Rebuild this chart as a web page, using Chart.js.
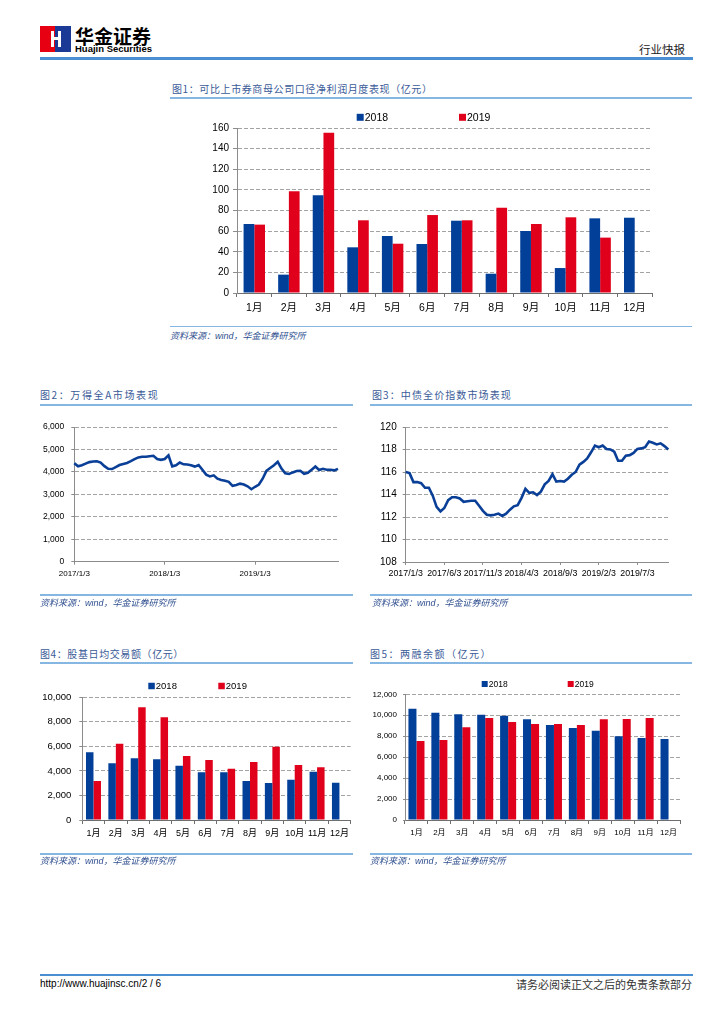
<!DOCTYPE html>
<html>
<head>
<meta charset="utf-8">
<script src="https://cdn.jsdelivr.net/npm/chart.js@4.4.0/dist/chart.umd.min.js"></script>
<style>
  body { margin: 0; width: 724px; height: 1024px; background: #fff; position: relative; overflow: hidden;
         font-family: "Liberation Sans", "Noto Sans CJK SC", sans-serif; }
  .abs { position: absolute; white-space: nowrap; line-height: 1; }
  .title { position: absolute; white-space: nowrap; line-height: 1; font-family: "Noto Sans CJK SC"; font-size: 10px; color: #3a5b98; }
  .rule { position: absolute; height: 1.5px; background: #86b7e3; }
  .src { position: absolute; white-space: nowrap; line-height: 1; font-family: "Liberation Sans", "Noto Sans CJK SC"; font-size: 9px; font-style: italic; color: #2f4f8f; }
  .box { position: absolute; }
</style>
</head>
<body>

<!-- header -->
<div class="abs" style="left:40px;top:26px;width:15px;height:26px;background:#e60012;"></div>
<div class="abs" style="left:55px;top:26px;width:16px;height:26px;background:#1b3a96;"></div>
<div class="abs" style="left:51px;top:31px;width:3px;height:16px;background:#fff;"></div>
<div class="abs" style="left:58px;top:31px;width:3px;height:16px;background:#fff;"></div>
<div class="abs" style="left:54px;top:37px;width:4px;height:3px;background:#fff;"></div>
<div class="abs" style="left:75px;top:26px;font-family:'Noto Sans CJK SC';font-weight:700;font-size:19px;color:#000;">华金证券</div>
<div class="abs" style="left:75px;top:44px;font-weight:700;font-size:9.5px;color:#000;">Huajin Securities</div>
<div class="abs" style="left:639px;top:44px;font-family:'Noto Sans CJK SC';font-size:11.5px;color:#222;">行业快报</div>
<div class="abs" style="left:40px;top:57px;width:653px;height:2.5px;background:#4a8fd1;"></div>

<!-- chart 1 -->
<div class="title" style="left:172px;top:84px;letter-spacing:0.6px;">图1：可比上市券商母公司口径净利润月度表现（亿元）</div>
<div class="rule" style="left:170px;top:97px;width:522px;"></div>
<div class="box" style="left:170px;top:105px;width:522px;height:221px;"><canvas id="c1"></canvas></div>
<div class="rule" style="left:170px;top:325.5px;width:522px;"></div>
<div class="src" style="left:170px;top:332px;">资料来源：wind，华金证券研究所</div>

<!-- chart 2 / 3 -->
<div class="title" style="left:40px;top:390px;letter-spacing:1.6px;">图2：万得全A市场表现</div>
<div class="rule" style="left:40px;top:404px;width:313px;"></div>
<div class="box" style="left:40px;top:415px;width:313px;height:180px;"><canvas id="c2"></canvas></div>
<div class="rule" style="left:40px;top:594px;width:313px;"></div>
<div class="src" style="left:40px;top:598.5px;">资料来源：wind，华金证券研究所</div>

<div class="title" style="left:372px;top:390px;letter-spacing:1.1px;">图3：中债全价指数市场表现</div>
<div class="rule" style="left:370px;top:404px;width:322px;"></div>
<div class="box" style="left:370px;top:415px;width:322px;height:180px;"><canvas id="c3"></canvas></div>
<div class="rule" style="left:370px;top:594px;width:322px;"></div>
<div class="src" style="left:372px;top:598.5px;">资料来源：wind，华金证券研究所</div>

<!-- chart 4 / 5 -->
<div class="title" style="left:40px;top:649px;letter-spacing:0.6px;">图4：股基日均交易额（亿元）</div>
<div class="rule" style="left:40px;top:662px;width:313px;"></div>
<div class="box" style="left:40px;top:670px;width:313px;height:184px;"><canvas id="c4"></canvas></div>
<div class="rule" style="left:40px;top:853px;width:313px;"></div>
<div class="src" style="left:40px;top:857px;">资料来源：wind，华金证券研究所</div>

<div class="title" style="left:370px;top:649px;letter-spacing:1.5px;">图5：两融余额（亿元）</div>
<div class="rule" style="left:370px;top:662px;width:322px;"></div>
<div class="box" style="left:370px;top:670px;width:322px;height:184px;"><canvas id="c5"></canvas></div>
<div class="rule" style="left:370px;top:853px;width:322px;"></div>
<div class="src" style="left:370px;top:857px;">资料来源：wind，华金证券研究所</div>

<!-- footer -->
<div class="abs" style="left:40px;top:974px;width:653px;height:2px;background:#4a8fd1;"></div>
<div class="abs" style="left:40px;top:979px;font-size:10px;color:#000;">http://www.huajinsc.cn/2 / 6</div>
<div class="abs" style="right:32px;top:979px;font-family:'Noto Sans CJK SC';font-size:11px;color:#333;">请务必阅读正文之后的免责条款部分</div>

<script>
// --- data ---
const months = ['1月', '2月', '3月', '4月', '5月', '6月', '7月', '8月', '9月', '10月', '11月', '12月'];
const seriesNames = ['2018', '2019'];

// fig 1: net profit (亿元)
const profit2018 = [66.9, 17.8, 94.7, 44.3, 55.3, 47.5, 70.1, 18.7, 60.1, 24.2, 72.4, 73.0];
const profit2019 = [66.3, 98.6, 155.5, 70.5, 47.8, 75.6, 70.5, 82.7, 66.9, 73.4, 53.7, null];

// fig 2: wind all-A, read every half month from 2017/1/3
const windA = [4390, 4250, 4300, 4370, 4440, 4470, 4480, 4420, 4260, 4140,
               4130, 4220, 4310, 4360, 4400, 4480, 4570, 4650, 4680, 4680,
               4700, 4720, 4580, 4540, 4580, 4740, 4250, 4300, 4420, 4340,
               4330, 4300, 4240, 4310, 4100, 3880, 3800, 3850, 3700, 3640,
               3610, 3560, 3380, 3420, 3480, 3440, 3360, 3230, 3340, 3440,
               3700, 4050, 4180, 4300, 4450, 4150, 3940, 3910, 3980, 4040,
               4050, 3920, 3960, 4100, 4240, 4090, 4140, 4100, 4100, 4070,
               4140];
const windTicks = [0, 24, 48];

// fig 3: chinabond full price index, half-monthly from 2017/1/3
const bondIdx = [116.0, 115.9, 115.1, 115.1, 115.0, 114.6, 114.6, 113.9, 112.9, 112.5,
                 112.8, 113.5, 113.75, 113.75, 113.65, 113.35, 113.4, 113.45, 113.45, 113.0,
                 112.55, 112.2, 112.15, 112.2, 112.3, 112.1, 112.3, 112.65, 112.95, 113.05,
                 113.7, 114.5, 114.15, 114.2, 113.95, 114.25, 114.9, 115.2, 115.8, 115.15,
                 115.2, 115.15, 115.4, 115.75, 116.0, 116.65, 116.9, 117.2, 117.75, 118.35,
                 118.2, 118.35, 118.05, 118.0, 117.8, 117.0, 117.0, 117.45, 117.5, 117.7,
                 118.05, 118.1, 118.2, 118.7, 118.6, 118.45, 118.55, 118.3, 118.0];
const bondTicks = [0, 10, 20, 30, 40, 50, 60];

// fig 4: daily stock+fund turnover (亿元)
const turnover2018 = [5516, 4620, 5027, 4946, 4429, 3886, 3886, 3180, 3016, 3288, 3940, 3043];
const turnover2019 = [3180, 6223, 9185, 8370, 5217, 4891, 4185, 4728, 5978, 4484, 4293, null];

// fig 5: margin balance (亿元)
const margin2018 = [10630, 10248, 10089, 10057, 9962, 9612, 9071, 8784, 8530, 7989, 7830, 7734];
const margin2019 = [7543, 7638, 8848, 9739, 9357, 9166, 9166, 9071, 9612, 9643, 9739, null];

// half-month date labels: 2017/1/3, 2017/1/18, 2017/2/3 ...
function halfMonths(count) {
    const out = [];
    for (let i = 0; i < count; i++) {
        const m = Math.floor(i / 2);
        const y = 2017 + Math.floor(m / 12);
        out.push(y + '/' + (m % 12 + 1) + '/' + (i % 2 ? 18 : 3));
    }
    return out;
}

const BLUE = '#023f99';
const RED = '#e0001b';

Chart.defaults.font.family = '"Liberation Sans", "Noto Sans CJK SC", sans-serif';
Chart.defaults.color = '#000';
Chart.defaults.animation = false;
Chart.defaults.plugins.legend.display = false;
Chart.defaults.plugins.tooltip.enabled = false;

// small box legend placed at fixed spots
const boxLegend = {
    id: 'boxLegend',
    afterDraw(chart, args, opts) {
        if (!opts.xs) return;
        const ctx = chart.ctx;
        ctx.save();
        ctx.font = opts.size + 'px "Liberation Sans"';
        ctx.textBaseline = 'middle';
        chart.data.datasets.forEach((ds, i) => {
            const x = opts.xs[i];
            ctx.fillStyle = ds.backgroundColor;
            ctx.fillRect(x, opts.y - opts.box / 2, opts.box, opts.box);
            ctx.fillStyle = '#000';
            ctx.fillText(ds.label, x + opts.box + 1, opts.y + 0.5);
        });
        ctx.restore();
    }
};
Chart.register(boxLegend);

function yAxis(o) {
    return {
        min: o.min, max: o.max,
        afterFit: s => { s.width = o.width; },
        ticks: {
            stepSize: o.step, padding: o.pad, font: { size: o.size },
            callback: v => o.comma ? v.toLocaleString('en-US') : v
        },
        grid: { color: '#a3a3a3', tickLength: o.tick, tickColor: '#8c8c8c' },
        border: { color: '#8c8c8c', dash: [4, 2] }
    };
}

function barChart(id, s18, s19, g) {
    new Chart(document.getElementById(id), {
        type: 'bar',
        data: {
            labels: months,
            datasets: [
                { label: seriesNames[0], data: s18, backgroundColor: BLUE },
                { label: seriesNames[1], data: s19, backgroundColor: RED }
            ]
        },
        options: {
            responsive: true,
            maintainAspectRatio: false,
            layout: { padding: { top: g.top, right: g.right, left: 0, bottom: 0 } },
            datasets: { bar: { categoryPercentage: g.cat, barPercentage: 1 } },
            scales: {
                x: {
                    afterFit: s => { s.height = g.xh; },
                    ticks: { font: { size: g.xsize }, padding: g.xpad, maxRotation: 0, autoSkip: false },
                    grid: { drawOnChartArea: false, tickLength: 4, color: '#6e6e6e' },
                    border: { color: '#6e6e6e' }
                },
                y: yAxis(g.y)
            },
            plugins: { boxLegend: g.legend }
        }
    });
}

function lineChart(id, values, shown, g) {
    new Chart(document.getElementById(id), {
        type: 'line',
        data: {
            labels: halfMonths(values.length),
            datasets: [{ data: values, borderColor: '#0a3f97', borderWidth: 2.6, pointRadius: 0, tension: 0 }]
        },
        options: {
            responsive: true,
            maintainAspectRatio: false,
            layout: { padding: { top: g.top, right: g.right, left: 0, bottom: 0 } },
            scales: {
                x: {
                    afterFit: s => { s.height = g.xh; },
                    afterBuildTicks: s => { s.ticks = s.ticks.filter(t => shown.includes(t.value)); },
                    ticks: { font: { size: g.xsize }, padding: g.xpad, maxRotation: 0, autoSkip: false },
                    grid: { drawOnChartArea: false, tickLength: 3, color: '#8c8c8c' },
                    border: { color: '#8c8c8c' }
                },
                y: yAxis(g.y)
            }
        }
    });
}

barChart('c1', profit2018, profit2019, {
    top: 23, right: 40, xh: 33, cat: 0.62, xsize: 10.5, xpad: 5,
    y: { min: 0, max: 160, step: 20, width: 67, size: 10, pad: 4, tick: 4 },
    legend: { xs: [186.7, 289], y: 12.3, box: 7, size: 10.5 }
});

lineChart('c2', windA, windTicks, {
    top: 11.7, right: 15, xh: 33.3, xsize: 8, xpad: 4,
    y: { min: 0, max: 6000, step: 1000, width: 34.3, size: 8.5, pad: 7, tick: 3, comma: true }
});

lineChart('c3', bondIdx, bondTicks, {
    top: 8.3, right: 23.7, xh: 33, xsize: 8.8, xpad: 3,
    y: { min: 108, max: 120, step: 2, width: 35.7, size: 10, pad: 6, tick: 3 }
});

barChart('c4', turnover2018, turnover2019, {
    top: 27.3, right: 1.3, xh: 34, cat: 0.67, xsize: 9, xpad: 4,
    y: { min: 0, max: 10000, step: 2000, width: 42.3, size: 9.5, pad: 8, tick: 3, comma: true },
    legend: { xs: [108.3, 178.3], y: 16, box: 6.5, size: 9.5 }
});

barChart('c5', margin2018, margin2019, {
    top: 24.3, right: 12, xh: 34, cat: 0.7, xsize: 8, xpad: 4,
    y: { min: 0, max: 12000, step: 2000, width: 35, size: 8, pad: 6, tick: 2, comma: true },
    legend: { xs: [111.7, 197.7], y: 14, box: 6, size: 8.5 }
});
</script>
</body>
</html>
